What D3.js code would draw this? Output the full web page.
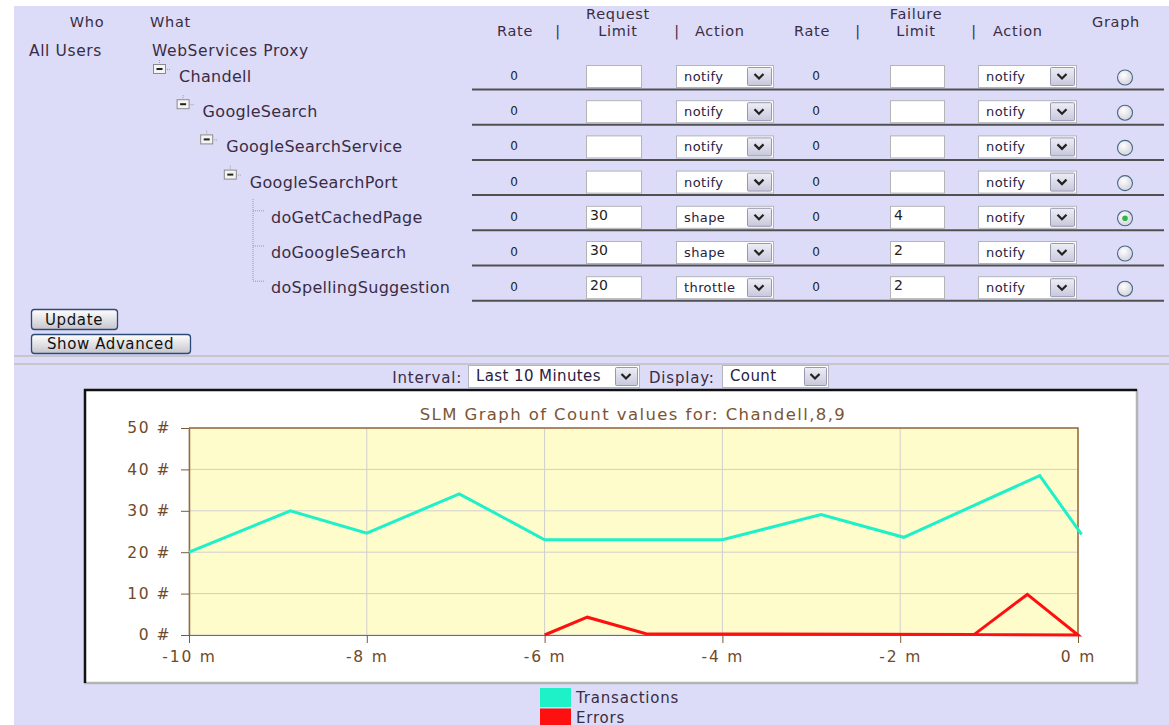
<!DOCTYPE html>
<html>
<head>
<meta charset="utf-8">
<script src="https://cdn.jsdelivr.net/npm/d3@7"></script>
<style>
body { margin:0; background:#fff; }
svg text { font-family:"DejaVu Sans", Verdana, sans-serif; }
</style>
</head>
<body>
<svg id="viewer"></svg>
<script>
// table content
var headerLabels = ['Who','What','Rate','|','Request','Limit','|','Action','Rate','|','Failure','Limit','|','Action','Graph'];
var rowNames = ['Chandell','GoogleSearch','GoogleSearchService','GoogleSearchPort','doGetCachedPage','doGoogleSearch','doSpellingSuggestion'];
var rowDepth = [0,1,2,3,4,4,4];
var reqRate = [0,0,0,0,0,0,0];
var reqLimit = ['','','','','30','30','20'];
var reqAction = ['notify','notify','notify','notify','shape','shape','throttle'];
var failRate = [0,0,0,0,0,0,0];
var failLimit = ['','','','','4','2','2'];
var failAction = ['notify','notify','notify','notify','notify','notify','notify'];
var graphRow = 4;

// chart content
var chartTitle = 'SLM Graph of Count values for: Chandell,8,9';
var minuteTicks = [-10,-8,-6,-4,-2,0];
var countTicks = [0,10,20,30,40,50];
var txMinutes = [-10,-8.86,-8.0,-6.96,-6.0,-4.0,-2.89,-1.96,-0.43,0.04];
var txCount = [20,30,24.6,34.1,23,23,29.1,23.6,38.5,24.3];
var errMinutes = [-6,-5.52,-4.86,-1.17,-0.57,0,-1.17];
var errCount = [0,4.3,0.3,0.1,9.8,0,0.1];
var seriesNames = ['Transactions','Errors'];
var seriesColors = ['#1ef0c8','#ff1010'];

var textColor = '#3a2c44';

var viewer = d3.select('#viewer')
  .attr('width',1169)
  .attr('height',725);

var defs = viewer.append('defs');
var bg = defs.append('linearGradient').attr('id','btn').attr('x1',0).attr('y1',0).attr('x2',0).attr('y2',1);
bg.append('stop').attr('offset','0%').attr('stop-color','#ffffff');
bg.append('stop').attr('offset','100%').attr('stop-color','#c4c4cc');
var ag = defs.append('linearGradient').attr('id','arrow').attr('x1',0).attr('y1',0).attr('x2',0).attr('y2',1);
ag.append('stop').attr('offset','0%').attr('stop-color','#eeeef6');
ag.append('stop').attr('offset','100%').attr('stop-color','#c8c8dc');
var rg = defs.append('radialGradient').attr('id','radio').attr('cx','40%').attr('cy','35%');
rg.append('stop').attr('offset','0%').attr('stop-color','#ffffff');
rg.append('stop').attr('offset','100%').attr('stop-color','#dcdce4');

viewer.append('rect')
  .attr('x',14).attr('y',6)
  .attr('width',1155).attr('height',719)
  .attr('fill','#dcdcf9');

// header
var headerX = [87,150,515,558,618,618,677,695,812,858,916,916,974,993,1116];
var headerY = [27,27,36,36,19,36,36,36,36,36,19,36,36,36,27];
var headerAnchor = ['middle','start','middle','middle','middle','middle','middle','start','middle','middle','middle','middle','middle','start','middle'];
viewer.selectAll('.hdr')
  .data(headerLabels)
  .enter().append('text')
    .attr('class','hdr')
    .attr('x',function(d,i){return headerX[i];})
    .attr('y',function(d,i){return headerY[i];})
    .attr('text-anchor',function(d,i){return headerAnchor[i];})
    .attr('font-size',14.5)
    .attr('letter-spacing',0.7)
    .attr('fill',textColor)
    .text(function(d){return d;});

viewer.append('text').attr('x',29).attr('y',56).attr('font-size',15.5).attr('letter-spacing',0.6).attr('fill',textColor).text('All Users');
viewer.append('text').attr('x',152).attr('y',56).attr('font-size',15.5).attr('letter-spacing',0.6).attr('fill',textColor).text('WebServices Proxy');

function drawSelect(g, x, y, w, label, fontSize, arrowW)
{
  g.append('rect')
    .attr('x',x+0.5).attr('y',y+0.5)
    .attr('width',w).attr('height',22)
    .attr('fill','#fff')
    .attr('stroke','#b4b4bc');
  g.append('text')
    .attr('x',x+8).attr('y',y+16)
    .attr('font-size',fontSize)
    .attr('letter-spacing',0.4)
    .attr('fill','#2a2040')
    .text(label);
  var ax = x+w-arrowW-2;
  g.append('rect')
    .attr('x',ax+0.5).attr('y',y+2.5)
    .attr('width',arrowW).attr('height',18)
    .attr('rx',1)
    .attr('fill','url(#arrow)')
    .attr('stroke','#9898b0');
  g.append('path')
    .attr('d','M'+(ax+arrowW/2-4.5)+','+(y+9)+' l4.5,4.5 l4.5,-4.5')
    .attr('fill','none')
    .attr('stroke','#222')
    .attr('stroke-width',2.2);
}

function drawInput(g, x, y, w, value)
{
  g.append('rect')
    .attr('x',x+0.5).attr('y',y+0.5)
    .attr('width',w).attr('height',22)
    .attr('fill','#fff')
    .attr('stroke','#b4b4b4');
  g.append('text')
    .attr('x',x+4).attr('y',y+14)
    .attr('font-size',14)
    .attr('fill','#222')
    .text(value);
}

var rows = viewer.selectAll('.row')
  .data(rowNames)
  .enter().append('g')
    .attr('class','row')
    .attr('transform',function(d,i){return 'translate(0,'+(76+i*35.2)+')';});

rows.each(function(d,i){
  var g = d3.select(this);
  var depth = rowDepth[i];
  var tx;
  if (depth<4)
  {
    var ix = 153+depth*23.6;
    g.append('path')
      .attr('d','M'+(ix+6.5)+',-16 v4 M'+(ix+14)+',-6.5 h4')
      .attr('stroke','#999').attr('stroke-dasharray','1,1').attr('fill','none');
    g.append('rect')
      .attr('x',ix+0.5).attr('y',-11.5)
      .attr('width',12).attr('height',9)
      .attr('fill','#f4f4f4').attr('stroke','#8a8a8a');
    g.append('path')
      .attr('d','M'+(ix+3.5)+',-7 h6')
      .attr('stroke','#222').attr('stroke-width',2);
    tx = ix+26;
  }
  else
  {
    g.append('path')
      .attr('d','M253,-6 h12')
      .attr('stroke','#999').attr('stroke-dasharray','1,1').attr('fill','none');
    tx = 271;
  }
  g.append('text')
    .attr('x',tx).attr('y',6)
    .attr('font-size',16)
    .attr('letter-spacing',0.3)
    .attr('fill',textColor)
    .text(d);

  g.append('text').attr('x',514).attr('y',4).attr('text-anchor','middle').attr('font-size',12).attr('fill','#222').text(reqRate[i]);
  drawInput(g,586,-11,55,reqLimit[i]);
  drawSelect(g,676,-11,97,reqAction[i],13,24);
  g.append('text').attr('x',816).attr('y',4).attr('text-anchor','middle').attr('font-size',12).attr('fill','#222').text(failRate[i]);
  drawInput(g,890,-11,54,failLimit[i]);
  drawSelect(g,978,-11,98,failAction[i],13,24);

  g.append('circle')
    .attr('cx',1125).attr('cy',1.5).attr('r',7.5)
    .attr('fill','url(#radio)')
    .attr('stroke','#4a6684').attr('stroke-width',1.1);
  if (i==graphRow)
    g.append('circle').attr('cx',1125).attr('cy',1.5).attr('r',2.8).attr('fill','#2fb84a');

  g.append('line')
    .attr('x1',472).attr('x2',1164)
    .attr('y1',13.5).attr('y2',13.5)
    .attr('stroke','#505050').attr('stroke-width',2);
});

// leaf connector
viewer.append('line')
  .attr('x1',253).attr('x2',253).attr('y1',199).attr('y2',281)
  .attr('stroke','#999').attr('stroke-dasharray','1,1');

// buttons
var buttons = [{label:'Update',x:31,y:309,w:86,h:20},{label:'Show Advanced',x:31,y:334,w:159,h:19}];
var btn = viewer.selectAll('.btn')
  .data(buttons)
  .enter().append('g').attr('class','btn');
btn.append('rect')
  .attr('x',function(d){return d.x+0.5;}).attr('y',function(d){return d.y+0.5;})
  .attr('width',function(d){return d.w;}).attr('height',function(d){return d.h;})
  .attr('rx',3)
  .attr('fill','url(#btn)')
  .attr('stroke','#2c4a78').attr('stroke-width',1.3);
btn.append('text')
  .attr('x',function(d){return d.x+d.w/2;}).attr('y',function(d){return d.y+d.h/2+5.5;})
  .attr('text-anchor','middle')
  .attr('font-size',15)
  .attr('letter-spacing',0.6)
  .attr('fill','#111')
  .text(function(d){return d.label;});

// separators
viewer.selectAll('.sep')
  .data([356,364])
  .enter().append('line')
    .attr('x1',14).attr('x2',1169)
    .attr('y1',function(d){return d;}).attr('y2',function(d){return d;})
    .attr('stroke','#c6c6cc').attr('stroke-width',2);

// interval / display
viewer.append('text').attr('x',462).attr('y',383).attr('text-anchor','end').attr('font-size',15).attr('letter-spacing',0.8).attr('fill',textColor).text('Interval:');
drawSelect(viewer,468,365,171,'Last 10 Minutes',15,22);
viewer.append('text').attr('x',649).attr('y',383).attr('font-size',15).attr('letter-spacing',0.8).attr('fill',textColor).text('Display:');
drawSelect(viewer,722,365,106,'Count',15,22);

// chart frame
viewer.append('rect')
  .attr('x',84).attr('y',389)
  .attr('width',1053).attr('height',294)
  .attr('fill','#fff');
viewer.append('path')
  .attr('d','M1137,389 V683 H84')
  .attr('fill','none').attr('stroke','#b4b4b4').attr('stroke-width',2.5);
viewer.append('path')
  .attr('d','M85,683 V390 H1137')
  .attr('fill','none').attr('stroke','#111').attr('stroke-width',2.5);

var x = d3.scaleLinear().domain([-10,0]).range([189,1078]);
var y = d3.scaleLinear().domain([0,50]).range([635,428]);

viewer.append('rect')
  .attr('x',x(-10)).attr('y',y(50))
  .attr('width',x(0)-x(-10)).attr('height',y(0)-y(50))
  .attr('fill','#fefccb');

viewer.append('g').selectAll('line')
  .data(minuteTicks)
  .enter().append('line')
    .attr('x1',function(d){return x(d);}).attr('x2',function(d){return x(d);})
    .attr('y1',y(50)).attr('y2',y(0))
    .attr('stroke','#cfcfcf');
viewer.append('g').selectAll('line')
  .data(countTicks)
  .enter().append('line')
    .attr('x1',x(-10)).attr('x2',x(0))
    .attr('y1',function(d){return y(d);}).attr('y2',function(d){return y(d);})
    .attr('stroke','#cfcfcf');

viewer.append('path')
  .attr('d','M'+x(-10)+','+y(50)+' H'+x(0)+' V'+y(0))
  .attr('fill','none').attr('stroke','#9a6a3a').attr('stroke-width',1.5);

var yAxis = viewer.append('g')
  .attr('transform','translate('+x(-10)+',0)')
  .call(d3.axisLeft(y).tickValues(countTicks).tickSize(8).tickSizeOuter(0).tickPadding(10)
    .tickFormat(function(d){return d+' #';}));
yAxis.select('.domain').attr('stroke','#9a6a3a').attr('stroke-width',1.5);
yAxis.selectAll('.tick line').attr('stroke','#7a5a3a');
yAxis.selectAll('.tick text').attr('font-size',15.5).attr('letter-spacing',1.5).attr('fill','#6e4a2a').attr('font-family','"DejaVu Sans", Verdana, sans-serif');

var xAxis = viewer.append('g')
  .attr('transform','translate(0,'+y(0)+')')
  .call(d3.axisBottom(x).tickValues(minuteTicks).tickSize(8).tickSizeOuter(0).tickPadding(8)
    .tickFormat(function(d){return d+' m';}));
xAxis.select('.domain').attr('stroke','#ff3030').attr('stroke-width',1);
xAxis.selectAll('.tick line').attr('stroke','#7a5a3a');
xAxis.selectAll('.tick text').attr('font-size',15.5).attr('letter-spacing',1.8).attr('fill','#6e4a2a').attr('font-family','"DejaVu Sans", Verdana, sans-serif');

viewer.append('text')
  .attr('x',633).attr('y',420)
  .attr('text-anchor','middle')
  .attr('font-size',16.5)
  .attr('letter-spacing',1.4)
  .attr('fill','#7b5533')
  .text(chartTitle);

var line = d3.line()
  .x(function(d){return x(d[0]);})
  .y(function(d){return y(d[1]);});

viewer.append('path')
  .datum(txMinutes.map(function(m,i){return [m,txCount[i]];}))
  .attr('d',line)
  .attr('fill','none')
  .attr('stroke',seriesColors[0])
  .attr('stroke-width',3);

viewer.append('path')
  .datum(errMinutes.map(function(m,i){return [m,errCount[i]];}))
  .attr('d',line)
  .attr('fill','none')
  .attr('stroke',seriesColors[1])
  .attr('stroke-width',3);

// legend
var legend = viewer.selectAll('.legend')
  .data(seriesNames)
  .enter().append('g')
    .attr('class','legend')
    .attr('transform',function(d,i){return 'translate(540,'+(688+i*20.5)+')';});
legend.append('rect')
  .attr('width',31).attr('height',19)
  .attr('fill',function(d,i){return seriesColors[i];});
legend.append('text')
  .attr('x',36).attr('y',14.5)
  .attr('font-size',15)
  .attr('letter-spacing',0.8)
  .attr('fill',textColor)
  .text(function(d){return d;});
</script>
</body>
</html>
